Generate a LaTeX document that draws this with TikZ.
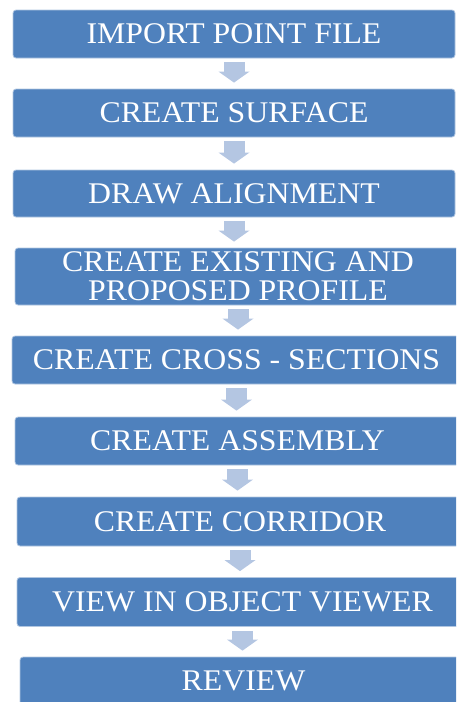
\documentclass[tikz,border=0pt]{standalone}
\usepackage{fontspec}
\setmainfont[FakeStretch=1.06]{Liberation Serif}
\usetikzlibrary{arrows.meta}
\definecolor{boxblue}{RGB}{79,129,189}
\definecolor{arrowblue}{RGB}{180,198,226}
\begin{document}
\begin{tikzpicture}[x=1pt, y=1pt,
                box/.style={draw=white!55!boxblue, line width=0.8pt, fill=boxblue, rounded corners=3pt, text=white, align=center, inner sep=0pt, font=\fontsize{30}{29}\selectfont, minimum height=48pt},
                flow/.style={draw=arrowblue, line width=21pt, -{Triangle[width=31pt, length=11pt, line width=0pt]}, shorten <=4pt, shorten >=6pt}]
                \clip (0,0) rectangle (456,-702);
                \node[box, minimum width=442pt] (A) at (234,-34) {IMPORT POINT FILE};
                \node[box, minimum width=442pt] (B) at (234,-113) {CREATE SURFACE};
                \node[box, minimum width=442pt, minimum height=47pt] (C) at (234,-193.5) {DRAW ALIGNMENT};
                \node[box, minimum width=446pt, minimum height=57pt] (D) at (238,-276.5) {CREATE EXISTING AND\\PROPOSED PROFILE};
                \node[box, minimum width=449pt] (E) at (236.5,-360) {CREATE CROSS - SECTIONS};
                \node[box, minimum width=445pt] (F) at (237.5,-441) {CREATE ASSEMBLY};
                \node[box, minimum width=446pt, minimum height=49pt] (G) at (240,-521.5) {CREATE CORRIDOR};
                \node[box, minimum width=451pt, minimum height=49pt] (H) at (242.5,-602) {VIEW IN OBJECT VIEWER};
                \node[box, minimum width=447pt] (I) at (243.5,-681) {REVIEW};
                \foreach \a/\b in {A/B, B/C, C/D, D/E, E/F, F/G, G/H, H/I}
                    \draw[flow] (\a.south) -- (\a.south |- \b.north);
\end{tikzpicture}
\end{document}
